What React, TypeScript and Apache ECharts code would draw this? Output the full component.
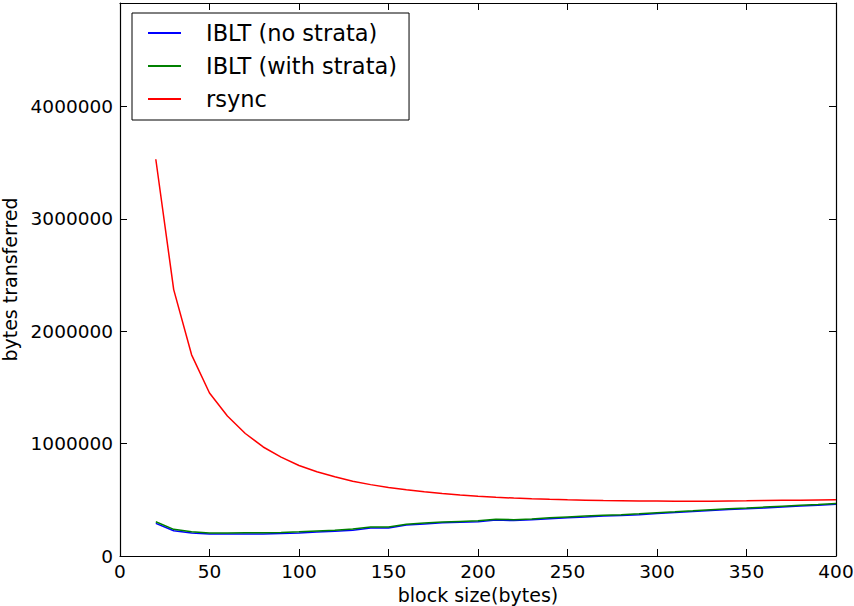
import React, { useEffect, useRef } from "react";
import * as echarts from "echarts";

const blockSizes = [20, 30, 40, 50, 60, 70, 80, 90, 100, 110, 120, 130, 140, 150, 160, 170, 180, 190, 200, 210, 220, 230, 240, 250, 260, 270, 280, 290, 300, 310, 320, 330, 340, 350, 360, 370, 380, 390, 400];

const ibltNoStrata = [290000, 225000, 205000, 195000, 195000, 196000, 196000, 200000, 205000, 213000, 220000, 230000, 250000, 250000, 275000, 285000, 295000, 300000, 305000, 320000, 315000, 322000, 332000, 340000, 347000, 355000, 360000, 368000, 378000, 386000, 395000, 405000, 413000, 420000, 428000, 436000, 444000, 452000, 460000];

const ibltWithStrata = [305000, 237000, 215000, 205000, 205000, 206000, 206000, 210000, 215000, 223000, 230000, 240000, 258000, 258000, 283000, 293000, 303000, 308000, 313000, 328000, 323000, 330000, 340000, 348000, 355000, 362000, 367000, 375000, 385000, 393000, 402000, 412000, 420000, 427000, 435000, 443000, 451000, 459000, 468000];

const rsync = [3530000, 2370000, 1790000, 1450000, 1245000, 1090000, 970000, 880000, 805000, 750000, 705000, 665000, 635000, 610000, 590000, 572000, 556000, 543000, 532000, 522000, 515000, 509000, 504000, 500000, 497000, 494000, 492000, 490000, 489000, 488000, 487000, 488000, 490000, 491000, 493000, 495000, 497000, 499000, 501000];

const seriesNames = ["IBLT (no strata)", "IBLT (with strata)", "rsync"];
const seriesColors = ["#0000ff", "#008000", "#ff0000"];

const FONT = "DejaVu Sans";

export default function App() {
  const ref = useRef<HTMLDivElement>(null);
  useEffect(() => {
    if (!ref.current) return;
    const chart = echarts.init(ref.current, undefined, { renderer: "svg" });
    const pair = (ys: number[]) => blockSizes.map((x, i) => [x, ys[i]]);
    const dataSets = [ibltNoStrata, ibltWithStrata, rsync];
    const axisLine = { show: true, onZero: false, lineStyle: { color: "#000", width: 1.2 } };
    const tick = { show: true, inside: true, length: 7, lineStyle: { color: "#000", width: 1 } };
    const plain = (v: number) => String(v);
    chart.setOption({
      animation: false,
      backgroundColor: "#fff",
      textStyle: { fontFamily: FONT },
      grid: { left: 120, right: 18, top: 3, bottom: 50, containLabel: false, outerBoundsMode: "none" },
      legend: {
        orient: "vertical",
        left: 132,
        top: 13,
        padding: [8, 12, 9, 16],
        itemGap: 9,
        itemWidth: 33,
        itemHeight: 2,
        icon: "rect",
        backgroundColor: "#fff",
        borderColor: "#000",
        borderWidth: 1,
        borderRadius: 0,
        data: seriesNames,
        textStyle: { fontFamily: FONT, fontSize: 22.5, color: "#000", lineHeight: 24, padding: [0, 0, 0, 20] },
      },
      xAxis: [
        {
          type: "value",
          min: 0,
          max: 400,
          interval: 50,
          name: "block size(bytes)",
          nameLocation: "middle",
          nameGap: 27,
          nameTextStyle: { fontFamily: FONT, fontSize: 19, color: "#000" },
          axisLine,
          axisTick: tick,
          splitLine: { show: false },
          axisLabel: { fontFamily: FONT, fontSize: 18.5, color: "#000", margin: 6, formatter: plain },
        },
        {
          type: "value",
          position: "top",
          min: 0,
          max: 400,
          interval: 50,
          axisLine,
          axisTick: tick,
          splitLine: { show: false },
          axisLabel: { show: false },
        },
      ],
      yAxis: [
        {
          type: "value",
          min: 0,
          max: 4920000,
          interval: 1000000,
          name: "bytes transferred",
          nameLocation: "middle",
          nameGap: 98,
          nameTextStyle: { fontFamily: FONT, fontSize: 19, color: "#000" },
          axisLine,
          axisTick: tick,
          splitLine: { show: false },
          axisLabel: { fontFamily: FONT, fontSize: 18.5, color: "#000", margin: 7, showMaxLabel: false, formatter: plain },
        },
        {
          type: "value",
          position: "right",
          min: 0,
          max: 4920000,
          interval: 1000000,
          axisLine,
          axisTick: tick,
          splitLine: { show: false },
          axisLabel: { show: false },
        },
      ],
      series: dataSets.map((d, i) => ({
        type: "line",
        name: seriesNames[i],
        data: pair(d),
        xAxisIndex: 0,
        yAxisIndex: 0,
        showSymbol: false,
        symbol: "none",
        lineStyle: { color: seriesColors[i], width: 1.5 },
        itemStyle: { color: seriesColors[i] },
      })),
    });
    return () => chart.dispose();
  }, []);
  return <div ref={ref} style={{ width: 854, height: 606, position: "absolute", left: 0, top: 0 }} />;
}
